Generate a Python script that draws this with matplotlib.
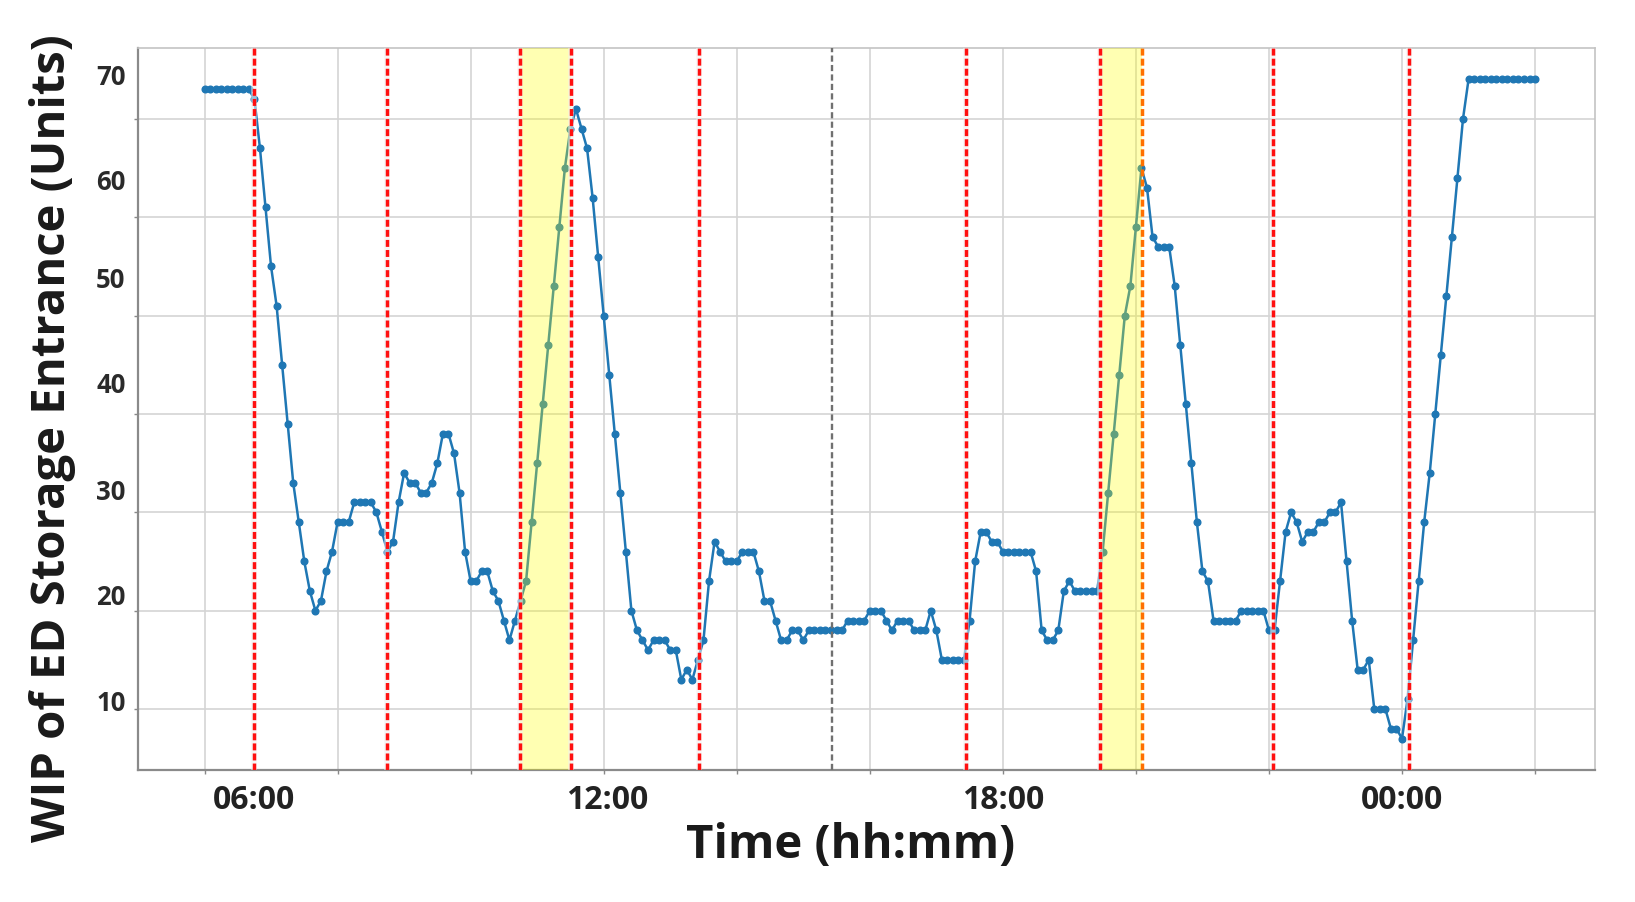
import numpy as np
import matplotlib
matplotlib.use("Agg")
import matplotlib.pyplot as plt

# WIP samples every 5 minutes starting 06:00 (hours past midnight, >24 = next day)
start_hour = 6.0
step_min = 5
wip = (
    [73] * 9
    + [72, 67, 61, 55, 51, 45, 39, 33, 29, 25, 22, 20, 21, 24, 26, 29, 29, 29, 31, 31,
       31, 31, 30, 28, 26, 27, 31, 34, 33, 33, 32, 32, 33, 35, 38, 38, 36, 32, 26, 23,
       23, 24, 24, 22, 21, 19, 17, 19, 21]
    + [23, 29, 35, 41, 47, 53, 59, 65, 69, 71, 69, 67, 62, 56, 50, 44, 38, 32, 26, 20]
    + [18, 17, 16, 17, 17, 17, 16, 16, 13, 14, 13, 15, 17, 23, 27, 26, 25, 25, 25, 26,
       26, 26, 24, 21, 21, 19, 17, 17, 18, 18, 17, 18]
    + [18] * 6 + [19] * 4 + [20] * 3 + [19, 18] + [19] * 3 + [18] * 3 + [20, 18]
    + [15] * 5 + [19, 25, 28, 28, 27, 27] + [26] * 6
    + [24, 18, 17, 17, 18, 22, 23, 22] + [22] * 4
    + [26, 32, 38, 44, 50, 53, 59, 65, 63, 58, 57, 57, 57, 53, 47, 41, 35, 29, 24, 23]
    + [19] * 5 + [20] * 5 + [18, 18]
    + [23, 28, 30, 29, 27, 28, 28, 29, 29, 30, 30, 31]
    + [25, 19, 14, 14, 15, 10, 10, 10, 8, 8, 7]
    + [11, 17, 23, 29, 34, 40, 46, 52, 58, 64, 70]
    + [74] * 13
)

red_lines = [6.75, 8.745, 10.74, 11.505, 13.44, 17.445, 19.455, 22.065, 24.105]
orange_lines = [20.085]
gray_lines = [15.435]
bands = [(10.74, 11.505), (19.455, 20.085)]

grid_x = [6, 8, 10, 12, 14, 16, 18, 20, 22, 24, 26]
grid_y = [10, 20, 30, 40, 50, 60, 70]
xlabel_pos = [6.75, 12.05, 18.0, 24.0]
xlabels = ["06:00", "12:00", "18:00", "00:00"]
ylabel_pos = [10.9, 21.6, 32.3, 43.15, 53.85, 63.8, 74.5]
ylabels = ["10", "20", "30", "40", "50", "60", "70"]

hours = start_hour + np.arange(len(wip)) * step_min / 60.0

plt.rcParams['font.family'] = ['Open Sans', 'DejaVu Sans']

fig = plt.figure(figsize=(16.35, 9.02), dpi=100)
ax = fig.add_axes([0.0844, 0.1463, 0.8911, 0.8005])

ax.plot(hours, wip, color='#1f77b4', lw=1.8, marker='o', markersize=4.8, zorder=3)

for a, b in bands:
    ax.axvspan(a, b, color='#ffff00', alpha=0.3, lw=0, zorder=4)
for x in red_lines:
    ax.axvline(x, color='#f0f0f0', lw=4.0, zorder=4.5, alpha=0.6)
    ax.axvline(x, color='#ff1010', lw=2.5, dashes=(2.0, 0.9), zorder=5)
for x in orange_lines:
    ax.axvline(x, color='#ff7000', lw=2.5, dashes=(2.0, 0.9), zorder=5)
for x in gray_lines:
    ax.axvline(x, color='#707070', lw=1.7, dashes=(2.6, 1.4), zorder=5)

ax.set_xlim(5.0, 26.9)
ax.set_ylim(3.8, 77.2)

# grid / tick marks on the round positions, labels placed separately
ax.set_xticks(grid_x)
ax.set_xticklabels([])
ax.set_yticks(grid_y)
ax.set_yticklabels([])
ax.grid(True, color='#d4d4d4', lw=1.2, zorder=0)
ax.tick_params(which='major', length=3, color='#888888', width=1)

ax.xaxis.remove_overlapping_locs = False
ax.yaxis.remove_overlapping_locs = False
ax.set_xticks(xlabel_pos, xlabels, minor=True)
ax.set_yticks(ylabel_pos, ylabels, minor=True)
ax.tick_params(axis='x', which='minor', length=0, pad=10, labelsize=23,
               labelcolor='#222222')
ax.tick_params(axis='y', which='minor', length=0, pad=9, labelsize=18.5,
               labelcolor='#2a2a2a')
for lab in ax.get_xticklabels(minor=True):
    lab.set_fontweight('bold')
for lab in ax.get_yticklabels(minor=True):
    lab.set_fontweight('bold')

for side in ['left', 'bottom']:
    ax.spines[side].set_color('#8a8a8a')
    ax.spines[side].set_linewidth(1.6)
for side in ['top', 'right']:
    ax.spines[side].set_color('#c4c4c4')
    ax.spines[side].set_linewidth(1.2)

ax.set_xlabel('Time (hh:mm)', fontsize=34, fontweight='bold', color='#1a1a1a',
              va='center', ha='center')
ax.xaxis.set_label_coords(0.489, -0.104)
ax.set_ylabel('WIP of ED Storage Entrance (Units)', fontsize=34, fontweight='bold',
              color='#1a1a1a', va='center', ha='center')
ax.yaxis.set_label_coords(-0.059, 0.46)

fig.savefig('out.png', dpi=100)
